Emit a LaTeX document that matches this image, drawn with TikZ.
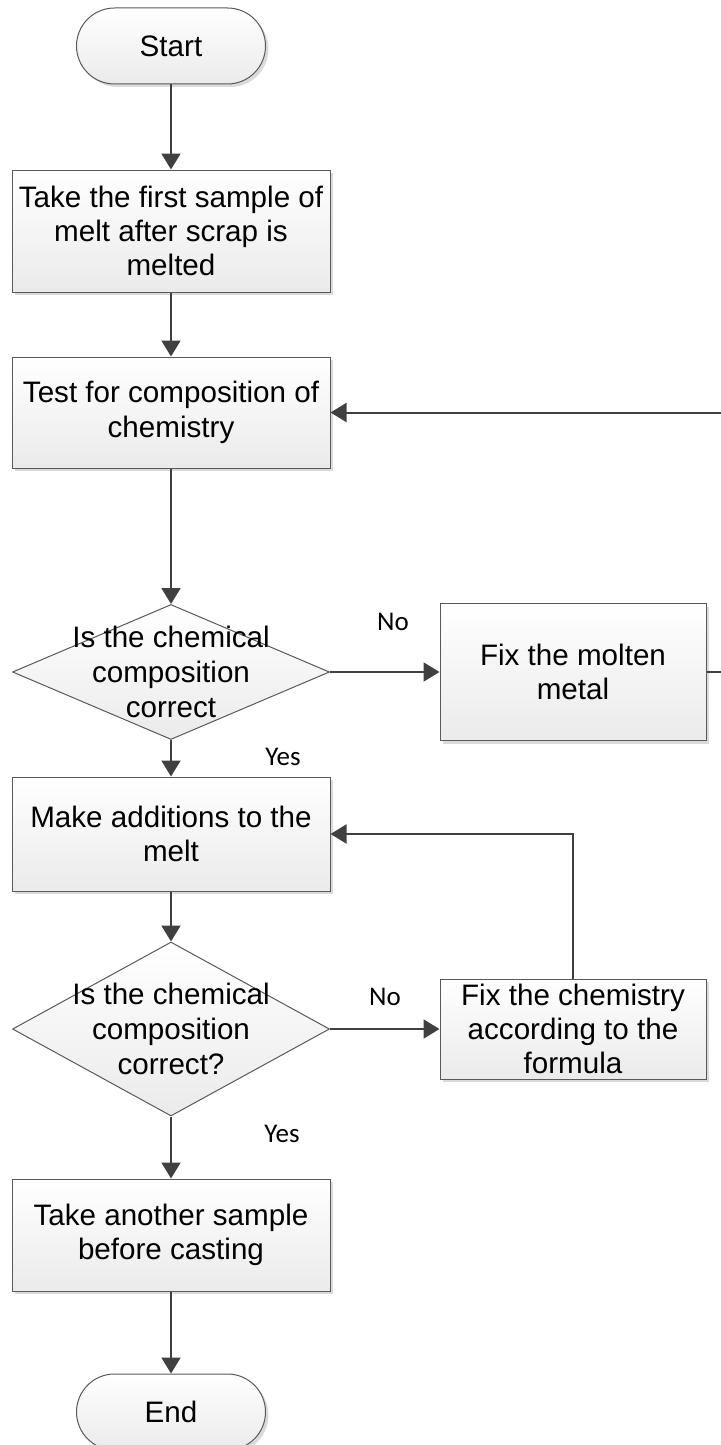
\documentclass[tikz,border=0pt]{standalone}
\usepackage{fontspec}
\setmainfont{Liberation Sans}
\newfontfamily\branchfont{Carlito}
\usetikzlibrary{arrows.meta,shapes.geometric,shadows}

\tikzset{
  boxfill/.style={draw=black!65, line width=0.5pt, top color=white, bottom color=black!8},
  boxshadow/.style={drop shadow={shadow xshift=1.5pt, shadow yshift=-1.5pt, fill=black!14, opacity=1}},
  terminal/.style={boxfill, boxshadow, rounded corners=19pt, minimum width=94.5pt, minimum height=38pt, font=\fontsize{14.8}{17}\selectfont},
  stepbox/.style={boxfill, boxshadow, align=center, inner sep=0pt, minimum width=159pt, font=\fontsize{14.8}{17.2}\selectfont},
  sidebox/.style={boxfill, boxshadow, align=center, inner sep=0pt, minimum width=133pt, font=\fontsize{14.8}{17.2}\selectfont},
  decision/.style={boxfill, diamond, inner sep=0pt, minimum width=158.5pt},
  qtext/.style={align=center, inner sep=0pt, font=\fontsize{14.8}{17.5}\selectfont},
  branch/.style={inner sep=0pt, font=\branchfont\fontsize{13.5}{16}\selectfont},
  flow/.style={draw=black!75, line width=1pt, -{Triangle[length=8pt,width=9.5pt]}}
}

\begin{document}
\begin{tikzpicture}[x=0.5pt, y=-0.5pt]
\useasboundingbox (0,0) rectangle (721,1445);

% Nodes
\node[terminal] (start) at (171,46) {Start};
\node[stepbox, minimum height=61pt] (sample) at (171,231) {Take the first sample of\\melt after scrap is\\melted};
\node[stepbox, minimum height=55.5pt] (test) at (171,412.5) {Test for composition of\\chemistry};
\node[decision, minimum height=67.5pt] (check1) at (171,672) {};
\node[qtext] (check1text) at (check1) {Is the chemical\\composition\\correct};
\node[sidebox, minimum height=68.5pt] (fixmetal) at (573,672) {Fix the molten\\metal};
\node[stepbox, minimum height=57pt] (additions) at (171,834) {Make additions to the\\melt};
\node[decision, minimum height=87pt] (check2) at (171,1029) {};
\node[qtext] (check2text) at (check2) {Is the chemical\\composition\\correct?};
\node[sidebox, minimum height=50pt] (fixchem) at (573,1029) {Fix the chemistry\\according to the\\formula};
\node[stepbox, minimum height=56pt] (another) at (171,1235) {Take another sample\\before casting};
\node[terminal] (finish) at (171,1412) {End};
\coordinate (loop) at (724,412.5);

% Branch labels
\node[branch] (no1) at (393,622) {No};
\node[branch] (yes1) at (283,757) {Yes};
\node[branch] (no2) at (385,997) {No};
\node[branch] (yes2) at (282,1134) {Yes};

% Directed edges
\draw[flow] (start) -- (sample);
\draw[flow] (sample) -- (test);
\draw[flow] (test) -- (check1);
\draw[flow] (check1) -- (fixmetal);
\draw[flow] (check1) -- (additions);
\draw[flow] (fixmetal.east) -| (loop) -- (test.east);
\draw[flow] (additions) -- (check2);
\draw[flow] (check2) -- (fixchem);
\draw[flow] (fixchem.north) |- (additions.east);
\draw[flow] (check2) -- (another);
\draw[flow] (another) -- (finish);
\end{tikzpicture}
\end{document}
